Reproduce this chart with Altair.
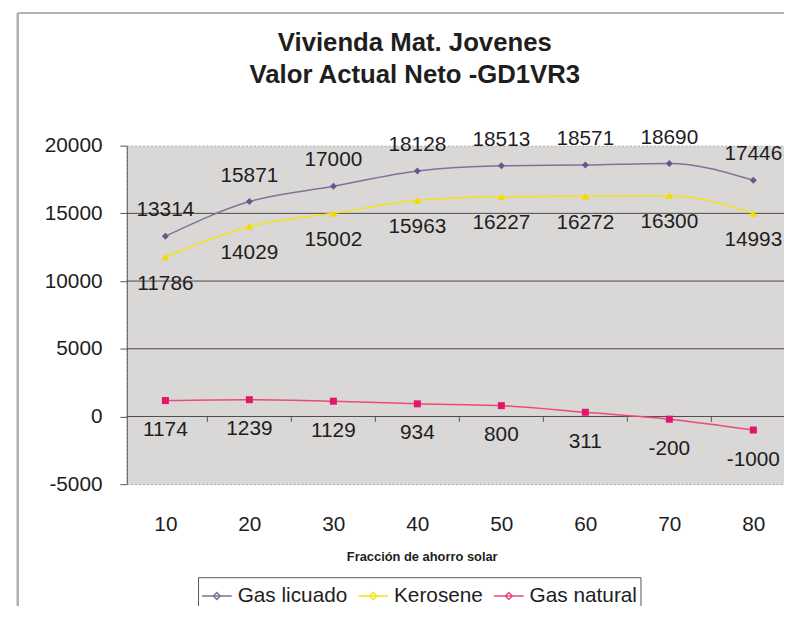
import altair as alt
import pandas as pd

# ---- data ----
fracciones = [10, 20, 30, 40, 50, 60, 70, 80]
gas_licuado = [13314, 15871, 17000, 18128, 18513, 18571, 18690, 17446]
kerosene = [11786, 14029, 15002, 15963, 16227, 16272, 16300, 14993]
gas_natural = [1174, 1239, 1129, 934, 800, 311, -200, -1000]
series_names = ["Gas licuado", "Kerosene", "Gas natural"]
y_ticks = [-5000, 0, 5000, 10000, 15000, 20000]
grid_values = [0, 5000, 10000, 15000]

rows = []
for name, vals in zip(series_names, [gas_licuado, kerosene, gas_natural]):
    for f, v in zip(fracciones, vals):
        rows.append({"fraccion": f, "valor": v, "serie": name})
df = pd.DataFrame(rows)
bounds_df = pd.DataFrame({"b": [(a + b) / 2 for a, b in zip(fracciones, fracciones[1:])]})
grid_df = pd.DataFrame({"g": grid_values})

FONT = "Liberation Sans"
TXT = "#1e1e1e"
FS = 21
line_colors = ["#7d7399", "#f3e41a", "#ec4a79"]
marker_colors = ["#65588a", "#f2dc00", "#e2156a"]
marker_shapes = ["diamond", "triangle-up", "square"]
marker_sizes = [50, 60, 50]
label_dy = [-26, 27, 30]
# legend symbols: line segment plus the series marker (unit coordinates)
legend_paths = [
    "M-1,0L1,0M0,-0.24L0.24,0L0,0.24L-0.24,0Z",
    "M-1,0L1,0M0,-0.26L0.26,0.2L-0.26,0.2Z",
    "M-1,0L1,0M-0.2,-0.2L0.2,-0.2L0.2,0.2L-0.2,0.2Z",
]


def js_list(items):
    return "[" + ",".join("'" + s + "'" for s in items) + "]"


idx_expr = "indexof(" + js_list(series_names) + ", datum.value)"
shape_expr = js_list(legend_paths) + "[" + idx_expr + "]"
fill_expr = js_list(marker_colors) + "[" + idx_expr + "]"

W, H = 664, 342
xscale = alt.Scale(domain=[5.404, 83.65], nice=False, zero=False)
yscale = alt.Scale(domain=[-5000, 20000], nice=False)

encode_variants = [
    {"symbols": {"shape": {"value": {"expr": shape_expr}}, "fill": {"value": {"expr": fill_expr}}}},
    {"symbols": {"shape": {"signal": shape_expr}, "fill": {"signal": fill_expr}}},
    {"symbols": {"update": {"shape": {"signal": shape_expr}, "fill": {"signal": fill_expr}}}},
    None,
]


def build(encode):
    x_enc = alt.X(
        "fraccion:Q",
        scale=xscale,
        axis=alt.Axis(
            values=fracciones, title="Fracción de ahorro solar", domain=False, ticks=False,
            tickSize=0, grid=False, labelPadding=30, labelFontSize=FS, labelColor=TXT,
            labelFont=FONT, labelFlush=False, titleFont=FONT, titleFontSize=13,
            titleFontWeight="bold", titleColor=TXT, titleX=298, titleY=73,
            titleAlign="center", titleBaseline="middle",
        ),
    )
    y_enc = alt.Y(
        "valor:Q",
        scale=yscale,
        axis=alt.Axis(
            values=y_ticks, title=None, tickSize=7, labelPadding=18,
            labelExpr="toString(datum.value)",
            labelFontSize=FS, labelColor=TXT, labelFont=FONT, grid=False,
            domainColor="#555555", tickColor="#555555",
        ),
    )

    base = alt.Chart(df)
    gridlines = alt.Chart(grid_df).mark_rule(color="#4e4848", strokeWidth=1).encode(y="g:Q")

    leg_kwargs = dict(
        orient="none", legendX=72, legendY=436, direction="horizontal", title=None,
        strokeColor="#555555", padding=3, labelFontSize=FS, labelFont=FONT, labelColor=TXT,
        symbolType=legend_paths[0], symbolSize=900, symbolStrokeWidth=1.4,
        columnPadding=8, labelOffset=5,
    )
    if encode is not None:
        leg_kwargs["encode"] = encode
    leg = alt.Legend(**leg_kwargs)

    lines = base.mark_line(interpolate="monotone", strokeWidth=1.5).encode(
        x=x_enc, y=y_enc,
        color=alt.Color("serie:N", scale=alt.Scale(domain=series_names, range=line_colors), legend=leg),
        detail="serie:N",
    )

    layers = [lines]
    for i, name in enumerate(series_names):
        sub = base.transform_filter(alt.datum.serie == name)
        pts = sub.mark_point(
            filled=True, shape=marker_shapes[i], size=marker_sizes[i], color=marker_colors[i], opacity=1
        ).encode(x="fraccion:Q", y="valor:Q")
        txt = sub.transform_calculate(lbl="toString(datum.valor)").mark_text(
            font=FONT, fontSize=FS, color=TXT, dy=label_dy[i], baseline="middle", align="center"
        ).encode(x="fraccion:Q", y="valor:Q", text="lbl:N")
        layers += [pts, txt]

    zero_ticks = alt.Chart(bounds_df).mark_rule(color="#555555", strokeWidth=1).encode(
        x="b:Q", y=alt.datum(0), y2=alt.datum(-400)
    )

    frame_left = alt.Chart(bounds_df).mark_rule(color="#b5b1b1", strokeWidth=2).encode(
        x=alt.value(-110), y=alt.value(-134), y2=alt.value(474)
    )
    frame_top = alt.Chart(bounds_df).mark_rule(color="#b5b1b1", strokeWidth=2).encode(
        x=alt.value(-110), x2=alt.value(700), y=alt.value(-134)
    )

    return alt.layer(frame_left, frame_top, gridlines, zero_ticks, *layers).properties(
        width=W, height=H, background="white",
        autosize=alt.AutoSizeParams(type="none"),
        padding={"left": 120, "top": 136, "right": 0, "bottom": 120},
        title=alt.TitleParams(
            text=["Vivienda Mat. Jovenes", "Valor Actual Neto -GD1VR3"],
            font=FONT, fontSize=26, fontWeight="bold", color=TXT,
            anchor="middle", frame="group", dx=-41, offset=-77, lineHeight=33,
        ),
    ).configure_view(
        fill="#dad7d7", stroke="#a8a3a3", strokeDash=[2, 2]
    )


for enc in encode_variants:
    try:
        chart = build(enc)
        chart.save("out.html", embed_options={"renderer": "svg", "actions": False})
        break
    except Exception:
        continue
